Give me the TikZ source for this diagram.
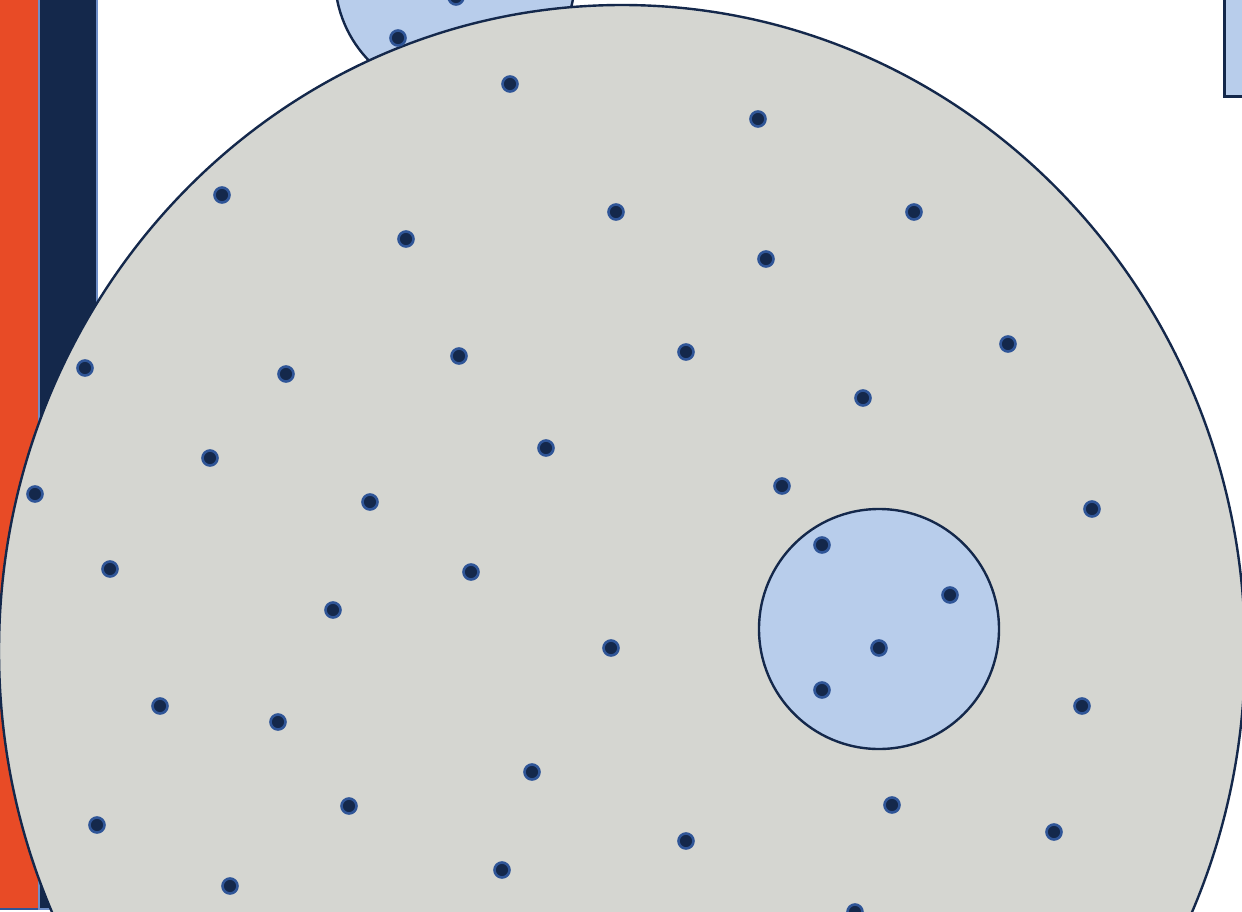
\documentclass[tikz,border=0pt]{standalone}
\usetikzlibrary{shapes.geometric}
\definecolor{orng}{HTML}{E84B26}
\definecolor{navy}{HTML}{14284B}
\definecolor{lblue}{HTML}{B8CDEB}
\definecolor{greyc}{HTML}{D5D6D1}
\definecolor{dotb}{HTML}{2F5597}
\definecolor{barb}{HTML}{6F8FC8}
\tikzset{
  dot/.style={circle,fill=navy,draw=dotb,line width=2.6pt,minimum size=15pt,inner sep=0pt},
  region/.style={draw=navy,line width=2.4pt},
}
\begin{document}
\begin{tikzpicture}[x=1pt,y=-1pt]
\useasboundingbox (0,0) rectangle (1242,911);
% bars
\fill[white] (0,0) rectangle (1242,911);
\draw[fill=orng,draw=dotb,line width=2pt] (-10,-10) rectangle (39,909);
\draw[fill=navy,draw=barb,line width=2pt] (39,-10) rectangle (97,909);
% top-right box
\node[region,fill=lblue,draw=navy,line width=2.6pt,anchor=south west,minimum width=60pt,minimum height=120pt,inner sep=0pt] (box) at (1223,98) {};
% top small circle
\node[region,fill=lblue,circle,minimum size=240pt,inner sep=0pt] (top) at (455,-23) {};
% big ellipse
\node[region,fill=greyc,ellipse,minimum width=1246pt,minimum height=1292pt,inner sep=0pt] (big) at (622,651) {};
% inner circle
\node[region,fill=lblue,circle,minimum size=240pt,inner sep=0pt] (inner) at (879,629) {};
% dots
\foreach \n/\x/\y in {
 a/456/-3, b/398/38, c/510/84, d/758/119, e/222/195, f/406/239, g/616/212, h/914/212,
 i/766/259, j/85/368, k/286/374, l/459/356, m/686/352, n/1008/344, o/863/398, p/210/458,
 q/546/448, r/35/494, s/370/502, t/782/486, u/1092/509, v/110/569, w/471/572, x/822/545,
 y/950/595, z/333/610, aa/611/648, ab/879/648, ac/822/690, ad/160/706, ae/278/722,
 af/1082/706, ag/532/772, ah/349/806, ai/892/805, aj/97/825, ak/1054/832, al/686/841,
 am/230/886, an/502/870, ao/855/912}
 \node[dot] (d\n) at (\x,\y) {};
\end{tikzpicture}
\end{document}
